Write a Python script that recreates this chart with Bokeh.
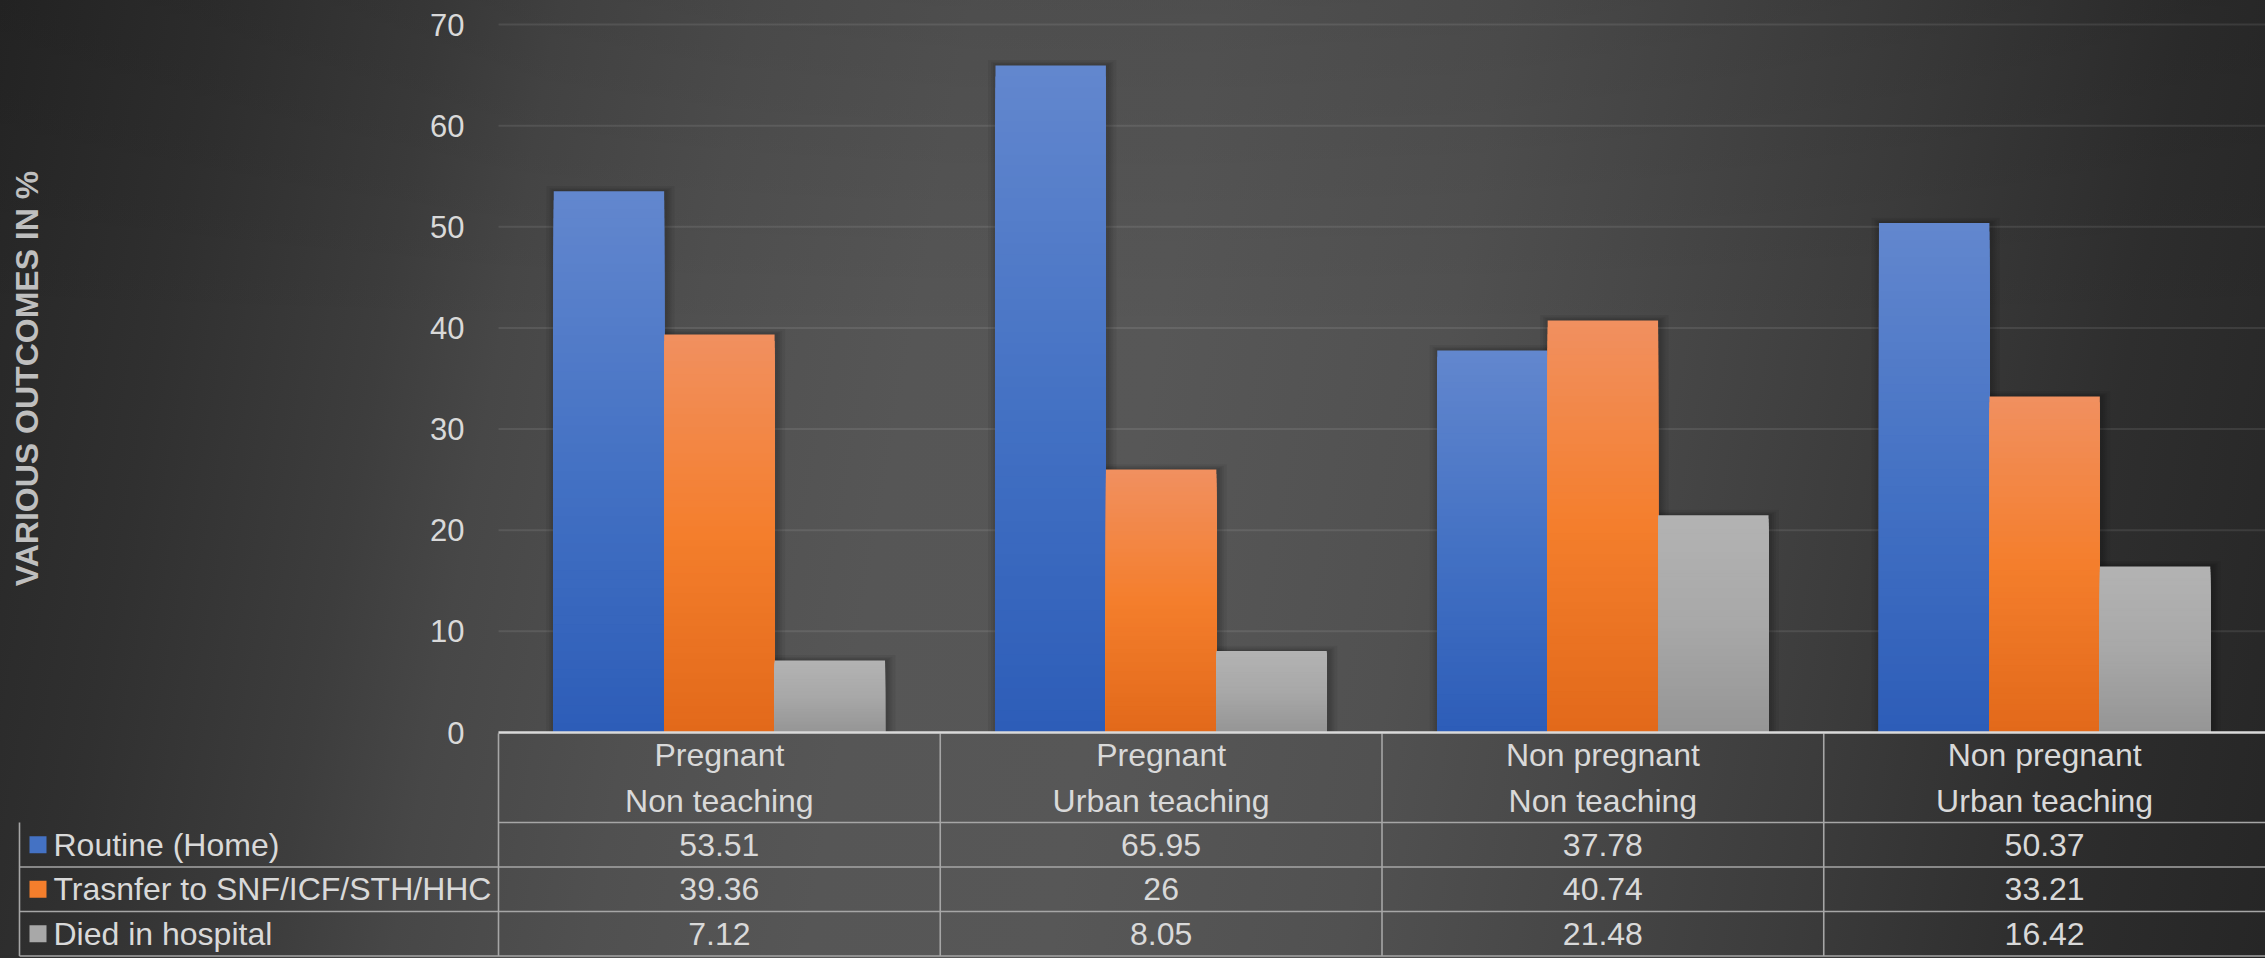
import math

from bokeh.plotting import figure
from bokeh.models import Range1d, FixedTicker, ColumnDataSource, LinearAxis
from bokeh.core.properties import value
from bokeh.embed import file_html
from bokeh.resources import INLINE

# ---- data -------------------------------------------------------------
categories = [
    "Pregnant\nNon teaching",
    "Pregnant\nUrban teaching",
    "Non pregnant\nNon teaching",
    "Non pregnant\nUrban teaching",
]
series_names = ["Routine (Home)", "Trasnfer to SNF/ICF/STH/HHC", "Died in hospital"]
routine_home = [53.51, 65.95, 37.78, 50.37]
transfer_snf = [39.36, 26, 40.74, 33.21]
died_in_hospital = [7.12, 8.05, 21.48, 16.42]
y_ticks = [0, 10, 20, 30, 40, 50, 60, 70]
y_title = "VARIOUS OUTCOMES IN %"

series_values = [routine_home, transfer_snf, died_in_hospital]
# top / middle / bottom colours of each series' vertical gradient
series_gradients = [
    ("#6387CE", "#4472C4", "#2D5DB8"),
    ("#F19060", "#F47E2C", "#E2691A"),
    ("#B3B3B3", "#A8A8A8", "#959595"),
]

# ---- layout constants ---------------------------------------------------
W, H = 2265, 958
PLOT_LEFT = 498          # left edge of the bar area (px)
PLOT_TOP = 24            # top gridline (px)
PLOT_BOTTOM = 732        # zero line (px)
FONT = "Liberation Sans"
TEXT_COLOR = "#d9d9d9"
RULE_COLOR = "#a6a6a6"
TICK_FS = "31px"
FS = "32px"
BAR_W = 0.25
OFFSETS = [-0.25, 0.0, 0.25]

n = len(categories)
cat_w = (W - PLOT_LEFT) / n
y_max = y_ticks[-1]
px_per_unit = (PLOT_BOTTOM - PLOT_TOP) / y_max


def hex_to_rgb(h):
    h = h.lstrip("#")
    return tuple(int(h[i:i + 2], 16) for i in (0, 2, 4))


def mix(c1, c2, t):
    a, b = hex_to_rgb(c1), hex_to_rgb(c2)
    return "#%02x%02x%02x" % tuple(round(a[i] + (b[i] - a[i]) * t) for i in range(3))


def grad_color(stops, t):
    top, mid, bot = stops
    return mix(top, mid, t / 0.5) if t < 0.5 else mix(mid, bot, (t - 0.5) / 0.5)


# one frame covers the whole canvas; x in category units, y in percent
p = figure(
    width=W, height=H,
    x_range=Range1d(-PLOT_LEFT / cat_w, n),
    y_range=Range1d(-(H - PLOT_BOTTOM) / px_per_unit, PLOT_BOTTOM / px_per_unit),
    output_backend="svg", toolbar_location=None,
    x_axis_location=None, y_axis_location=None,
    min_border=0, min_border_left=0, min_border_right=0,
    min_border_top=0, min_border_bottom=0,
    background_fill_color=None, border_fill_color=None, outline_line_color=None,
)
p.grid.visible = False
# pixel ranges for the data table under the bars
p.extra_x_ranges = {"px": Range1d(0, W)}
p.extra_y_ranges = {"px": Range1d(H, 0)}

# y axis pinned to the left edge of the bar area
yaxis = LinearAxis(ticker=FixedTicker(ticks=y_ticks), fixed_location=0)
yaxis.axis_line_color = None
yaxis.major_tick_line_color = None
yaxis.minor_tick_line_color = None
yaxis.major_label_standoff = 28
yaxis.major_label_text_font = FONT
yaxis.major_label_text_font_size = TICK_FS
yaxis.major_label_text_color = TEXT_COLOR
p.add_layout(yaxis, "left")

# horizontal gridlines across the bar area
p.segment(x0=[0] * len(y_ticks), x1=[n] * len(y_ticks), y0=y_ticks, y1=y_ticks,
          line_color="white", line_alpha=0.09, line_width=2)

# axis title
p.text(x=[26], y=[(y_ticks[0] + y_ticks[-1]) / 2], text=[y_title], x_range_name="px",
       angle=math.pi / 2, text_align="center", text_baseline="middle",
       text_font=value(FONT), text_font_style="bold", text_font_size=FS,
       text_color="#bfbfbf")

px_x = 1.0 / cat_w
px_y = 1.0 / px_per_unit
cat_x = [i + 0.5 for i in range(n)]

# soft shadow around each bar
for vals, off in zip(series_values, OFFSETS):
    for s in (2, 4, 6, 9):
        p.vbar(x=[c + off + 1.5 * px_x for c in cat_x],
               top=[v + s * 0.6 * px_y for v in vals], bottom=0,
               width=BAR_W + 2 * s * px_x,
               fill_color="black", fill_alpha=0.06, line_color=None)

# bars with a vertical gradient: stacked slices, each from zero up to a
# fraction of the value, lightest (tallest) first
N_SLICES = 60
for vals, off, stops in zip(series_values, OFFSETS, series_gradients):
    xs, tops, colors = [], [], []
    for c, v in zip(cat_x, vals):
        for k in range(N_SLICES):
            xs.append(c + off)
            tops.append(v * (1 - k / N_SLICES))
            colors.append(grad_color(stops, (k + 0.5) / N_SLICES))
    src = ColumnDataSource(dict(x=xs, top=tops, color=colors))
    p.vbar(x="x", top="top", bottom=0, width=BAR_W, source=src,
           fill_color="color", line_color=None)

# ---- data table ------------------------------------------------------------
HEADER_BOTTOM = 822
ROW_H = 44.5
TABLE_LEFT = 19
row_lines = [HEADER_BOTTOM + ROW_H * (i + 1) for i in range(len(series_names))]
row_centers = [HEADER_BOTTOM + ROW_H * (i + 0.5) for i in range(len(series_names))]
table_bottom = row_lines[-1]

# column rules
p.segment(x0=list(range(n)), x1=list(range(n)), y0=[PLOT_BOTTOM + 1] * n,
          y1=[table_bottom] * n, y_range_name="px",
          line_color=RULE_COLOR, line_width=1.6)
p.segment(x0=[TABLE_LEFT], x1=[TABLE_LEFT], y0=[HEADER_BOTTOM], y1=[table_bottom],
          x_range_name="px", y_range_name="px", line_color=RULE_COLOR, line_width=1.6)
# row rules
p.segment(x0=[0], x1=[n], y0=[HEADER_BOTTOM], y1=[HEADER_BOTTOM], y_range_name="px",
          line_color=RULE_COLOR, line_width=1.6)
p.segment(x0=[TABLE_LEFT] * len(row_lines), x1=[W] * len(row_lines),
          y0=row_lines, y1=row_lines, x_range_name="px", y_range_name="px",
          line_color=RULE_COLOR, line_width=1.6)
# zero line / top of the table
p.segment(x0=[0], x1=[n], y0=[0], y1=[0], line_color="#d9d9d9", line_width=2.5)

# category headers (two lines each)
hx, hy, ht = [], [], []
for c, cat in zip(cat_x, categories):
    for j, line in enumerate(cat.split("\n")):
        hx.append(c)
        hy.append(754 + 46 * j)
        ht.append(line)
p.text(x=hx, y=hy, text=ht, y_range_name="px", text_align="center", text_baseline="middle",
       text_font=value(FONT), text_font_size=FS, text_color=TEXT_COLOR)

# cell values
cx, cy, ct = [], [], []
for r, vals in enumerate(series_values):
    for c, v in zip(cat_x, vals):
        cx.append(c)
        cy.append(row_centers[r])
        ct.append(f"{v:g}")
p.text(x=cx, y=cy, text=ct, y_range_name="px", text_align="center", text_baseline="middle",
       text_font=value(FONT), text_font_size=FS, text_color=TEXT_COLOR)

# legend keys and series names
p.rect(x=[37.5] * len(series_names), y=row_centers, width=17, height=17,
       width_units="screen", height_units="screen",
       x_range_name="px", y_range_name="px",
       fill_color=[g[1] for g in series_gradients], line_color=None)
p.text(x=[53] * len(series_names), y=row_centers, text=series_names,
       x_range_name="px", y_range_name="px",
       text_align="left", text_baseline="middle",
       text_font=value(FONT), text_font_size=FS, text_color=TEXT_COLOR)

p.styles = {
    "background": (
        "linear-gradient(180deg, rgba(0,0,0,0.10) 0%, rgba(0,0,0,0) 35%), "
        "linear-gradient(100deg, #262626 0%, #303030 9%, #3d3d3d 18%, #474747 23%, "
        "#505050 31%, #565656 40%, #575757 50%, #515151 62%, #484848 70%, "
        "#3c3c3c 80%, #2e2e2e 90%, #262626 100%)"
    )
}

with open("out.html", "w") as f:
    f.write(file_html(p, INLINE))
